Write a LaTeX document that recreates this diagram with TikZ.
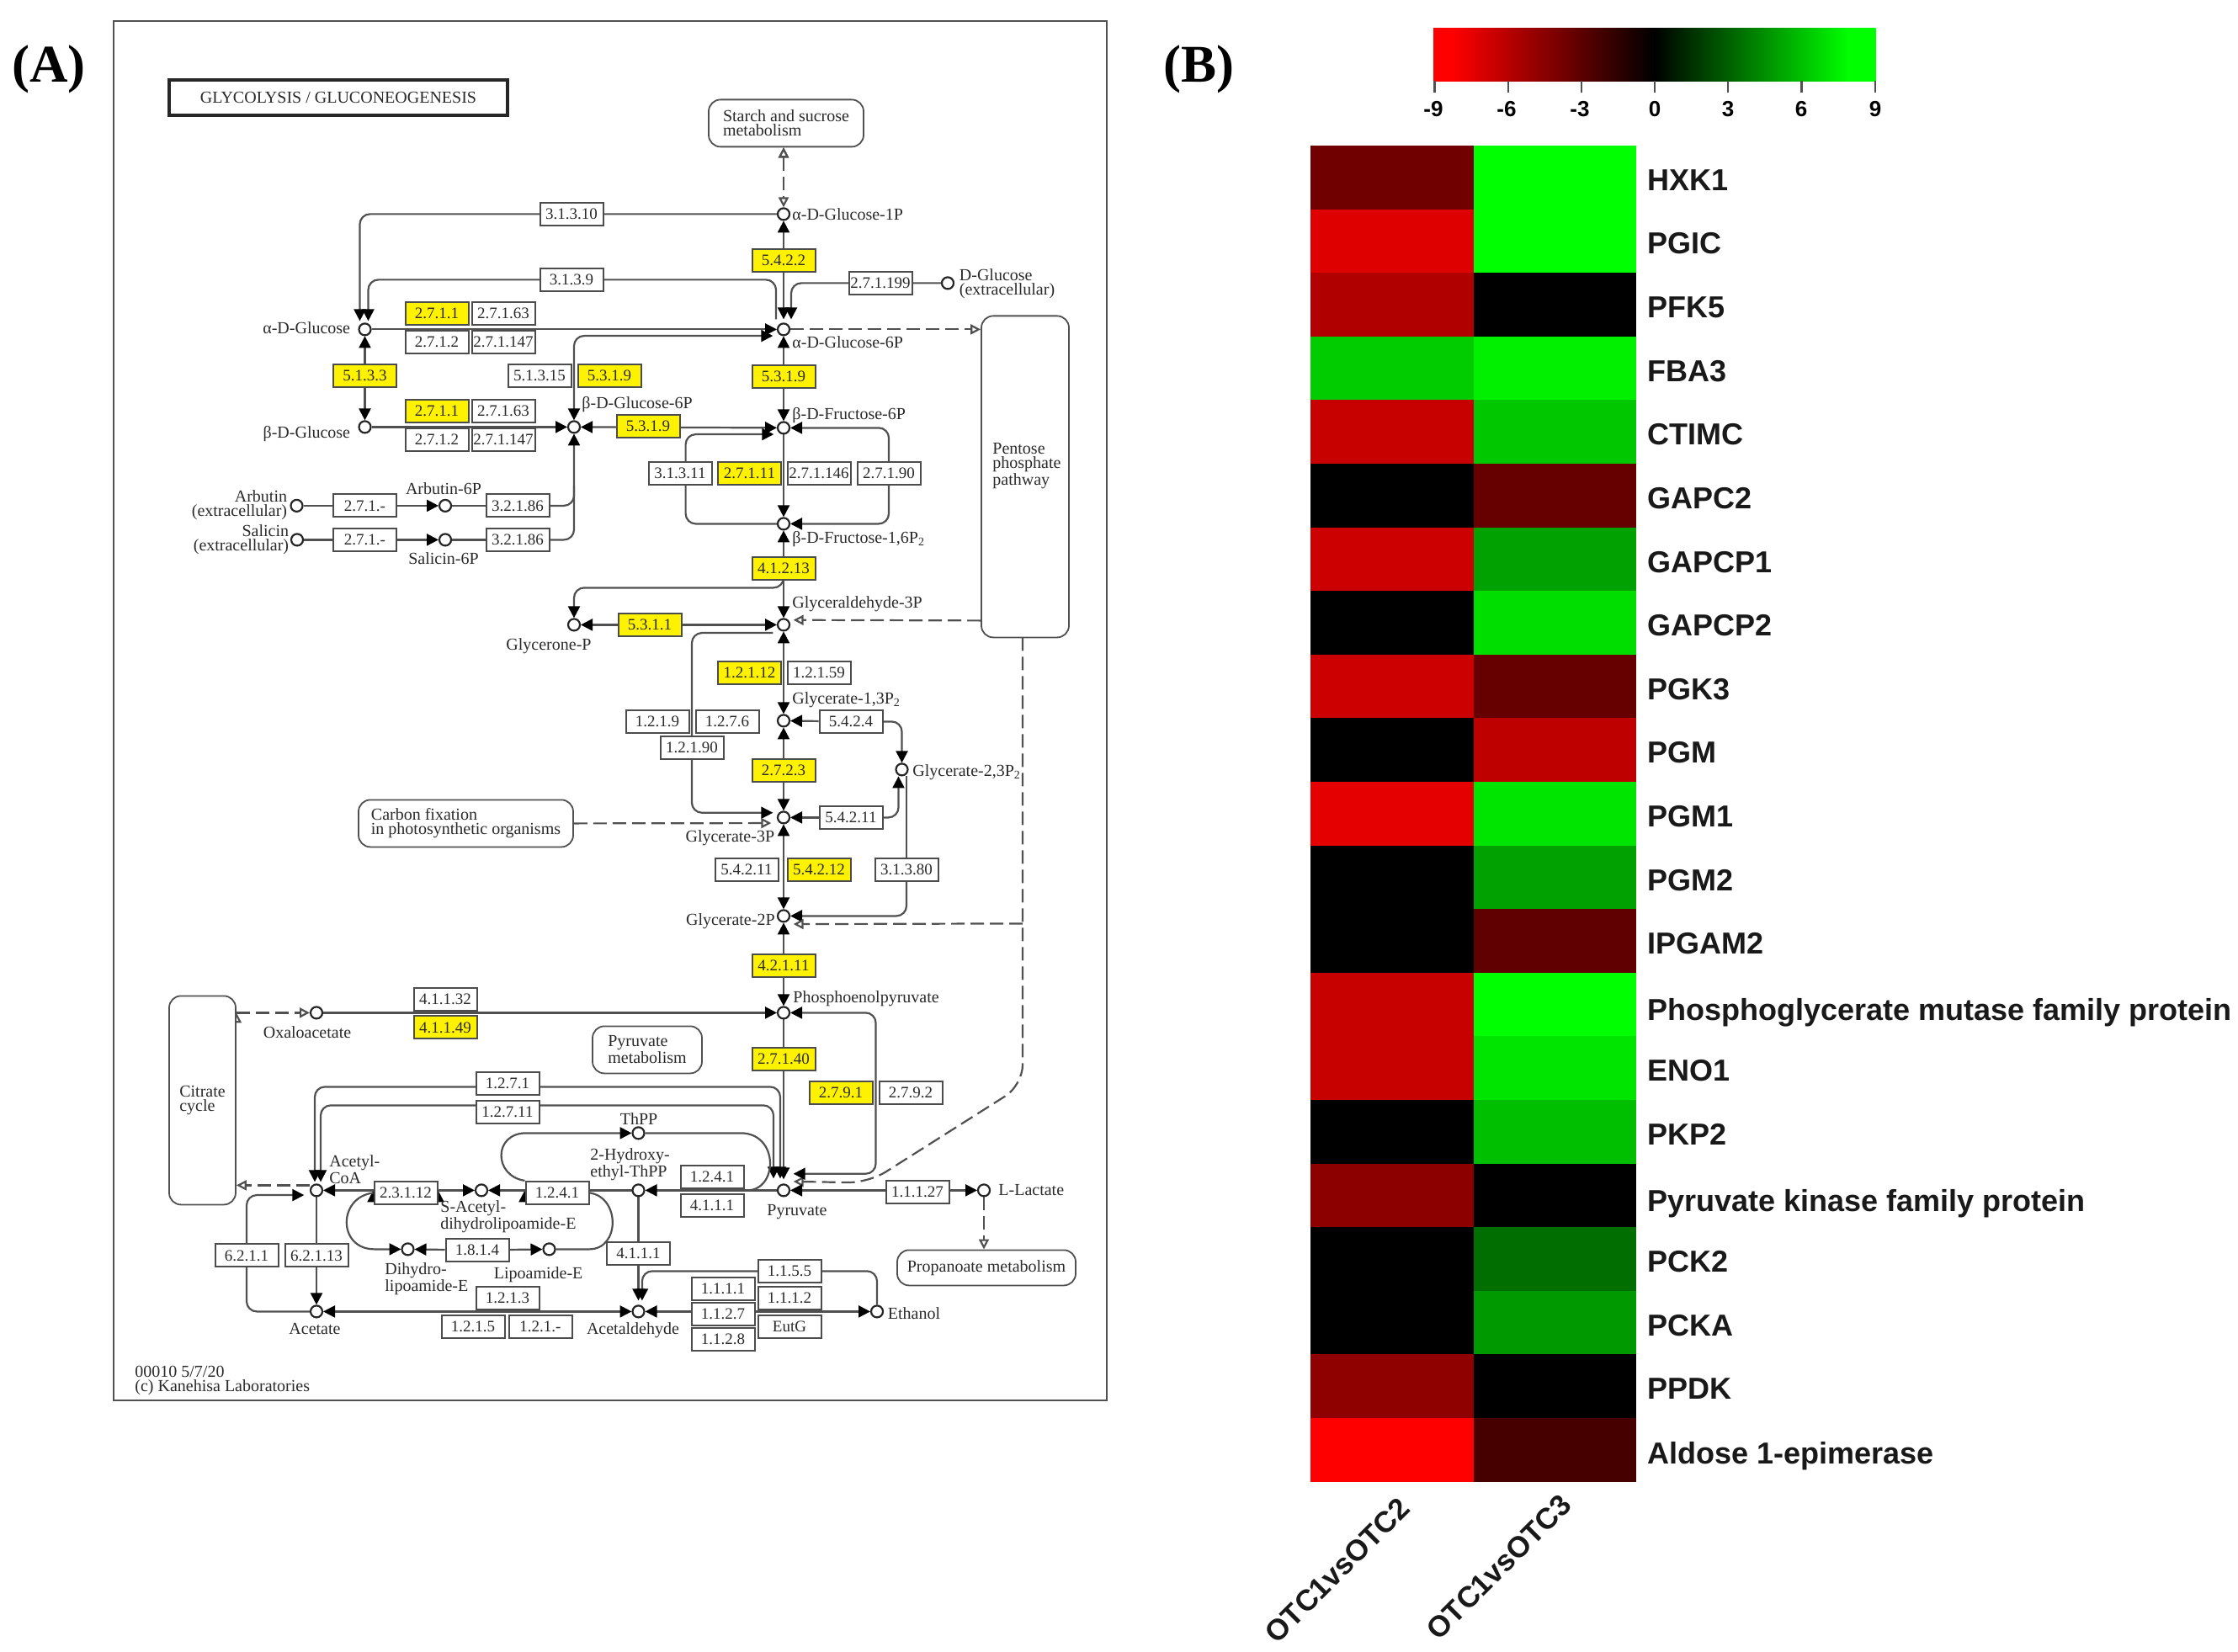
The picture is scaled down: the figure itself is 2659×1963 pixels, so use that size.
\documentclass[tikz,border=0pt]{standalone}
\usepackage{fontspec}
\setmainfont{Liberation Serif}
\setsansfont{Liberation Sans}
\usetikzlibrary{positioning}
\usetikzlibrary{arrows.meta}
\definecolor{wirec}{HTML}{505050}
\definecolor{inkc}{HTML}{2A2A2A}
\pgfdeclarelayer{wires}
\pgfsetlayers{wires,main}
\pgfdeclarehorizontalshading{redgreen}{100bp}{color(0bp)=(red); color(27bp)=(red); color(50bp)=(black); color(72bp)=(green); color(100bp)=(green)}
\tikzset{
	>={Triangle[length=7pt,width=7pt,black]},
	wire/.style={draw=wirec,line width=1.1pt},
	link/.style={wire},
	arr/.style={wire,->},
	biarr/.style={wire,<->},
	rnd/.style={rounded corners=6pt},
	latent/.style={wire,dash pattern=on 8pt off 3.5pt,-{Triangle[open,length=6pt,width=6pt,fill=white]}},
	latentbi/.style={latent,{Triangle[open,length=6pt,width=6pt,fill=white]}-{Triangle[open,length=6pt,width=6pt,fill=white]}},
	met/.style={circle,draw=black!85,fill=white,line width=1.1pt,minimum size=7pt,inner sep=0pt,outer sep=.5pt},
	ec/.style={rectangle,draw=black!70,fill=white,line width=1pt,minimum width=37.5pt,minimum height=13.5pt,inner sep=0pt,text=inkc,font=\fontsize{9.5}{10}\selectfont},
	hit/.style={ec,fill=yellow},
	pathway/.style={rectangle,rounded corners=7pt,draw=wirec,fill=white,line width=.9pt,inner sep=0pt,align=left,text=inkc,font=\fontsize{10}{8.5}\selectfont},
	lab/.style={inner sep=0pt,align=left,text=inkc,font=\fontsize{10}{8.5}\selectfont},
	labr/.style={lab,align=right},
	labc/.style={lab,align=center},
	cell/.style={rectangle,minimum width=96.75pt,minimum height=37.8pt,inner sep=0pt,outer sep=0pt},
	hr/.style={cell,fill=red!#1!black},
	hg/.style={cell,fill=green!#1!black},
	gene/.style={anchor=base west,inner sep=0pt,text=black!90,font=\sffamily\bfseries\fontsize{18}{20}\selectfont},
	sample/.style={rotate=45,anchor=east,inner sep=0pt,text=black!90,font=\sffamily\bfseries\fontsize{17.5}{20}\selectfont},
	ticklab/.style={inner sep=0pt,font=\sffamily\bfseries\fontsize{13}{15}\selectfont},
	panel/.style={inner sep=0pt,font=\bfseries\fontsize{31.5}{36}\selectfont}
}

\begin{document}
\begin{tikzpicture}[x=.5pt,y=-.5pt]
	\useasboundingbox (0,0) rectangle (2659,1963);
	% Panels
	\node[panel] (pa) at (58,82) {(A)};
	\node[panel] (pb) at (1424,82) {(B)};
	\node[rectangle,draw=wirec,line width=1.1pt,minimum width=590pt,minimum height=819.5pt,inner sep=0pt] (frame) at (725,844.5) {};
	\node[rectangle,draw=black!85,line width=1.6pt,minimum width=201pt,minimum height=21pt,inner sep=0pt,text=inkc,font=\fontsize{10}{12}\selectfont] (title) at (402,116) {GLYCOLYSIS / GLUCONEOGENESIS};

	\begin{scope}[yshift=-1.2pt]
	\node[lab] (stamp) at (160,1638) [anchor=west] {00010 5/7/20\\(c) Kanehisa Laboratories};

	% Metabolites
	\node[met] (glc1p) at (931,252) {};
	\node[met] (glc6p) at (931,389) {};
	\node[met] (f6p) at (931,506) {};
	\node[met] (fbp) at (931,620) {};
	\node[met] (gap3p) at (931,740) {};
	\node[met] (gly13p) at (931,854) {};
	\node[met] (gly3p) at (931,969) {};
	\node[met] (gly2p) at (931,1086) {};
	\node[met] (pep) at (931,1201) {};
	\node[met] (pyr) at (931,1412) {};
	\node[met] (glca) at (433.5,389) {};
	\node[met] (glcb) at (433.5,505) {};
	\node[met] (g6pb) at (682,505) {};
	\node[met] (glyp) at (682,740) {};
	\node[met] (arb) at (352.5,598.5) {};
	\node[met] (sal) at (353,639) {};
	\node[met] (arb6p) at (529,598.5) {};
	\node[met] (sal6p) at (529,639) {};
	\node[met] (gly23p) at (1071.5,912) {};
	\node[met] (glcd) at (1126,334) {};
	\node[met] (oxa) at (376,1201) {};
	\node[met] (acetyl) at (376,1412) {};
	\node[met] (acetate) at (376,1556) {};
	\node[met] (sacet) at (572,1412) {};
	\node[met] (dihydro) at (484.5,1482) {};
	\node[met] (lipo) at (652.5,1482) {};
	\node[met] (thpp) at (758.5,1344) {};
	\node[met] (hydroxy) at (758.5,1412) {};
	\node[met] (acald) at (758.5,1556) {};
	\node[met] (etoh) at (1042,1556) {};
	\node[met] (lac) at (1169,1412) {};

	% Metabolite names
	\node[lab,anchor=west] (tglc1p) at (941,252) {α-D-Glucose-1P};
	\node[lab,anchor=west] (tglc6p) at (941,404) {α-D-Glucose-6P};
	\node[lab,anchor=west] (tf6p) at (941,491) {β-D-Fructose-6P};
	\node[lab,anchor=west] (tfbp) at (941,638) {β-D-Fructose-1,6P\textsubscript{2}};
	\node[lab,anchor=west] (tgap3p) at (941,715) {Glyceraldehyde-3P};
	\node[lab,anchor=west] (tgly13p) at (941,829) {Glycerate-1,3P\textsubscript{2}};
	\node[lab,anchor=west] (tgly23p) at (1084,915) {Glycerate-2,3P\textsubscript{2}};
	\node[lab,anchor=east] (tgly3p) at (920.5,993) {Glycerate-3P};
	\node[lab,anchor=east] (tgly2p) at (921,1092) {Glycerate-2P};
	\node[lab,anchor=west] (tpep) at (942,1184) {Phosphoenolpyruvate};
	\node[labc] (tpyr) at (947,1438) {Pyruvate};
	\node[lab,anchor=west] (tlac) at (1186,1412) {L-Lactate};
	\node[lab,anchor=west] (tetoh) at (1054.5,1558) {Ethanol};
	\node[labc] (tacald) at (752,1578) {Acetaldehyde};
	\node[labc] (tthpp) at (759,1327) {ThPP};
	\node[lab,anchor=west] (thydroxy) at (701,1381) {2-Hydroxy-\\ethyl-ThPP};
	\node[lab,anchor=west] (tsacet) at (523,1443) {S-Acetyl-\\dihydrolipoamide-E};
	\node[lab,anchor=west] (tdihydro) at (457,1517) {Dihydro-\\lipoamide-E};
	\node[lab,anchor=west] (tlipo) at (586.5,1512) {Lipoamide-E};
	\node[lab,anchor=west] (tacetyl) at (391,1387) {Acetyl-\\CoA};
	\node[labc] (tacetate) at (374,1577) {Acetate};
	\node[labc] (toxa) at (365,1224) {Oxaloacetate};
	\node[lab,anchor=east] (tglca) at (416.5,387) {α-D-Glucose};
	\node[lab,anchor=east] (tglcb) at (416.5,513) {β-D-Glucose};
	\node[lab,anchor=west] (tg6pb) at (691,478) {β-D-Glucose-6P};
	\node[lab,anchor=west] (tglcd) at (1139.5,335) {D-Glucose\\(extracellular)};
	\node[labr,anchor=east] (tarb) at (341.5,598) {Arbutin\\(extracellular)};
	\node[labr,anchor=east] (tsal) at (343.5,639) {Salicin\\(extracellular)};
	\node[labc] (tarb6p) at (527,578) {Arbutin-6P};
	\node[labc] (tsal6p) at (527,661) {Salicin-6P};
	\node[labc] (tglyp) at (652,765) {Glycerone-P};

	% Other maps
	\node[pathway,minimum width=92pt,minimum height=28pt] (starch) at (934,144) {Starch and sucrose\\metabolism};
	\node[pathway,minimum width=52pt,minimum height=191pt] (pentose) at (1218,564) {};
	\node[lab,anchor=west] (tpentose) at (1179,551) {Pentose\\phosphate\\pathway};
	\node[pathway,minimum width=127.5pt,minimum height=28pt] (carbon) at (553.5,976) {Carbon fixation\\in photosynthetic organisms};
	\node[pathway,minimum width=39.5pt,minimum height=124pt] (citrate) at (240.5,1305) {Citrate\\cycle};
	\node[pathway,minimum width=65pt,minimum height=28pt] (pyrmet) at (769,1245) {Pyruvate\\metabolism};
	\node[pathway,minimum width=106pt,minimum height=21pt] (propan) at (1172,1504) {Propanoate metabolism};

	% Enzymes
	\node[ec] (ec31310) at (679,252) {3.1.3.10};
	\node[ec] (ec3139) at (679,330) {3.1.3.9};
	\node[hit] (ec2711a) at (519,370) {2.7.1.1};
	\node[ec] (ec27163a) at (598,370) {2.7.1.63};
	\node[ec] (ec2712a) at (519,404) {2.7.1.2};
	\node[ec] (ec271147a) at (598,404) {2.7.1.147};
	\node[hit] (ec5133) at (433.5,444) {5.1.3.3};
	\node[ec] (ec51315) at (641,444) {5.1.3.15};
	\node[hit] (ec5319a) at (724,444) {5.3.1.9};
	\node[hit] (ec2711b) at (519,486) {2.7.1.1};
	\node[ec] (ec27163b) at (598,486) {2.7.1.63};
	\node[ec] (ec2712b) at (519,520) {2.7.1.2};
	\node[ec] (ec271147b) at (598,520) {2.7.1.147};
	\node[hit] (ec5422) at (931,307) {5.4.2.2};
	\node[ec] (ec271199) at (1046,334) {2.7.1.199};
	\node[hit] (ec5319b) at (931,445) {5.3.1.9};
	\node[hit] (ec5319c) at (770,504) {5.3.1.9};
	\node[ec] (ec31311) at (808,560) {3.1.3.11};
	\node[hit] (ec27111) at (890.5,560) {2.7.1.11};
	\node[ec] (ec271146) at (973,560) {2.7.1.146};
	\node[ec] (ec27190) at (1056,560) {2.7.1.90};
	\node[ec] (ec271a) at (433.5,598.5) {2.7.1.-};
	\node[ec] (ec32186a) at (615,598.5) {3.2.1.86};
	\node[ec] (ec271b) at (433.5,639) {2.7.1.-};
	\node[ec] (ec32186b) at (615,639) {3.2.1.86};
	\node[hit] (ec41213) at (931,673) {4.1.2.13};
	\node[hit] (ec5311) at (772,740) {5.3.1.1};
	\node[hit] (ec12112) at (890.5,797) {1.2.1.12};
	\node[ec] (ec12159) at (973,797) {1.2.1.59};
	\node[ec] (ec1219) at (781,855) {1.2.1.9};
	\node[ec] (ec1276) at (864,855) {1.2.7.6};
	\node[ec] (ec12190) at (822,886) {1.2.1.90};
	\node[ec] (ec5424) at (1011,855) {5.4.2.4};
	\node[hit] (ec2723) at (931,913) {2.7.2.3};
	\node[ec] (ec54211a) at (1011,969) {5.4.2.11};
	\node[ec] (ec54211b) at (887,1031) {5.4.2.11};
	\node[hit] (ec54212) at (973,1031) {5.4.2.12};
	\node[ec] (ec31380) at (1077,1031) {3.1.3.80};
	\node[hit] (ec42111) at (931,1145) {4.2.1.11};
	\node[ec] (ec41132) at (529,1185) {4.1.1.32};
	\node[hit] (ec41149) at (529,1218.5) {4.1.1.49};
	\node[hit] (ec27140) at (931,1256) {2.7.1.40};
	\node[hit] (ec2791) at (999,1296) {2.7.9.1};
	\node[ec] (ec2792) at (1082,1296) {2.7.9.2};
	\node[ec] (ec1271) at (603,1285) {1.2.7.1};
	\node[ec] (ec12711) at (603,1319) {1.2.7.11};
	\node[ec] (ec23112) at (482,1415) {2.3.1.12};
	\node[ec] (ec1241a) at (662,1415) {1.2.4.1};
	\node[ec] (ec1241b) at (846,1396) {1.2.4.1};
	\node[ec] (ec4111a) at (846,1430) {4.1.1.1};
	\node[ec] (ec11127) at (1090,1414) {1.1.1.27};
	\node[ec] (ec6211) at (293,1489.5) {6.2.1.1};
	\node[ec] (ec62113) at (376,1489.5) {6.2.1.13};
	\node[ec] (ec1814) at (567,1483) {1.8.1.4};
	\node[ec] (ec4111b) at (758.5,1487) {4.1.1.1};
	\node[ec] (ec1213) at (603,1540) {1.2.1.3};
	\node[ec] (ec1215) at (562,1574) {1.2.1.5};
	\node[ec] (ec121x) at (642,1574) {1.2.1.-};
	\node[ec] (ec1155) at (938,1508) {1.1.5.5};
	\node[ec] (ec1112) at (938,1540) {1.1.1.2};
	\node[ec] (eceutg) at (938,1574) {EutG};
	\node[ec] (ec1111) at (859,1529) {1.1.1.1};
	\node[ec] (ec1127) at (859,1559) {1.1.2.7};
	\node[ec] (ec1128) at (859,1589) {1.1.2.8};

	% Free points on the long lines
	\coordinate (joinarb) at (682,575);
	\coordinate (loop2791) at (1040.5,1296);
	\coordinate (pentb) at (1215,755);
	\coordinate (jointhpp) at (889,1412);

	\begin{pgfonlayer}{wires}
		% Top part
		\path[latentbi] (starch.south -| glc1p) edge (glc1p);
		\path[biarr] (glc1p) edge ([yshift=2pt]glc6p.north);
		\path[arr] (glca) edge (glc6p);
		\draw[arr,rnd] (glc1p) -| ([xshift=-3pt,yshift=1pt]glca.north);
		\draw[arr,rnd] ([xshift=-4.5pt,yshift=2pt]glc6p.north) |- (ec3139.center) -| ([xshift=2pt,yshift=1pt]glca.north);
		\draw[arr,rnd] (glcd) -| ([xshift=4.5pt,yshift=2pt]glc6p.north);
		\path[biarr] (glca) edge (glcb);
		\path[arr] (glcb) edge (g6pb);
		\path[biarr] (g6pb) edge (f6p);
		\draw[biarr,rnd] (g6pb) |- ([xshift=-3.5pt,yshift=-1pt]glc6p.south west);
		\path[link] (arb) edge (ec271a);
		\path[arr] (ec271a) edge (arb6p);
		\path[link] (arb6p) edge (ec32186a);
		\path[link] (sal) edge (ec271b);
		\path[arr] (ec271b) edge (sal6p);
		\path[link] (sal6p) edge (ec32186b);
		\draw[link,rnd] (ec32186a) -| (joinarb);
		\draw[arr,rnd] (ec32186b) -| (g6pb);
		\path[biarr] (glc6p) edge (f6p);
		\path[latent] (glc6p) edge (pentose.west |- glc6p);
		\path[arr] (f6p) edge (fbp);
		\draw[biarr,rnd] (f6p) -| (ec27190.center) |- (fbp);
		\draw[arr,rnd] (fbp) -| ([xshift=3.3pt]ec31311.center) |- ([xshift=-3pt,yshift=-1pt]f6p.south west);
		\path[biarr] (fbp) edge (gap3p);
		\draw[arr,rnd] (ec41213.south) -- (ec41213.south |- 0,696) -| (glyp);
		\path[biarr] (glyp) edge (gap3p);
		\draw[latent] (pentose.west |- 0,735) -- ([xshift=3pt]gap3p.north east);

		% Middle part
		\path[biarr] (gap3p) edge (gly13p);
		\draw[arr,rnd] ([xshift=-3.5pt,yshift=-2pt]gap3p.south west) -| (ec12190.center) |- ([xshift=-3.5pt]gly3p.north west);
		\path[arr] (ec5424) edge (gly13p);
		\draw[arr,rnd] (ec5424) -| (gly23p);
		\path[biarr] (gly13p) edge (gly3p);
		\path[arr] (ec54211a) edge (gly3p);
		\draw[arr,rnd] (ec54211a) -| ([xshift=-2pt]gly23p.south);
		\path[link] (ec31380) edge ([xshift=2.75pt]gly23p.south);
		\draw[arr,rnd] (ec31380) |- (gly2p);
		\draw[latent] (carbon.east) -- ([xshift=-4.5pt,yshift=-.5pt]gly3p.south west);
		\path[biarr] (gly3p) edge (gly2p);
		\path[biarr] (gly2p) edge (pep);
		\draw[latent,rounded corners=12pt] (pentb) -- (1215,1287) -- (1032,1403) -- ([xshift=3pt,yshift=2.4pt]pyr.north east);
		\draw[latent] (pentb |- 0,1095) -- ([xshift=3pt,yshift=-2pt]gly2p.south east);

		% Lower part
		\path[latent] (citrate.east |- oxa) edge (oxa);
		\path[arr] (oxa) edge (pep);
		\path[arr] (pep) edge ([yshift=2.5pt]pyr.north);
		\draw[biarr,rnd] (pep) -| (loop2791) |- ([xshift=3pt,yshift=7pt]pyr.north east);
		\draw[biarr,rnd] ([xshift=-1pt,yshift=1pt]acetyl.north) |- ([yshift=-2pt]ec1271.center) -| ([xshift=-2pt,yshift=3pt]pyr.north);
		\draw[biarr,rnd] ([xshift=2.5pt,yshift=1pt]acetyl.north) |- ([yshift=4pt]ec12711.center) -| ([xshift=-6pt,yshift=3pt]pyr.north);
		\path[arr] (pyr) edge (hydroxy);
		\path[biarr] (pyr) edge (lac);
		\path[latent] (lac) edge (lac |- propan.north);
		\path[link] (hydroxy) edge (ec1241a.east |- hydroxy);
		\path[arr] (hydroxy) edge ([yshift=2.5pt]acald.north);
		\draw[arr,rnd] (etoh) |- (ec1155.center) -| ([xshift=2.2pt,yshift=2.5pt]acald.north);
		\path[biarr] (acald) edge (etoh);
		\path[biarr] (acetate) edge (acald);
		\path[arr] (acetyl) edge (acetate);
		\draw[arr,rnd] (acetate) -| (ec6211.center) |- ([xshift=-4.5pt]acetyl.south west);
		\draw[latent] ([yshift=3pt]acetyl.west) -- (citrate.east |- 0,1406);
		\path[arr] (ec23112.west |- acetyl) edge (acetyl);
		\path[arr] (ec23112.east |- sacet) edge (sacet);
		\path[arr] (ec1241a.west |- sacet) edge (sacet);
		\path[arr] (ec1814) edge (dihydro);
		\path[arr] (ec1814) edge (lipo);
		\draw[arr] (ec23112.west) .. controls (401,1420) and (401,1482) .. (445,1482) -- (dihydro);
		\draw[link] (lipo) -- (700,1482) .. controls (737,1482) and (737,1420) .. (ec1241a.east);
		\draw[arr] (ec1241a.north west) .. controls (586,1395) and (586,1344) .. (625,1344) -- (thpp);
		\draw[link] (thpp) -- (880,1344) .. controls (925,1344) and (925,1410) .. (jointhpp);
	\end{pgfonlayer}
	\end{scope}

	% Colour key
	\node[rectangle,shade,shading=redgreen,minimum width=262.75pt,minimum height=31.6pt,inner sep=0pt,outer sep=0pt] (key) at (1965.9,65.1) {};
	\draw[link] (1704.4,96) -- (1704.4,110) (1791.6,96) -- (1791.6,110) (1878.8,96) -- (1878.8,110) (1966,96) -- (1966,110) (2053.2,96) -- (2053.2,110) (2140.4,96) -- (2140.4,110) (2227.6,96) -- (2227.6,110);
	\node[ticklab] (km9) at (1703,130) {-9};
	\node[ticklab] (km6) at (1790,130) {-6};
	\node[ticklab] (km3) at (1877,130) {-3};
	\node[ticklab] (k0) at (1966,130) {0};
	\node[ticklab] (k3) at (2053,130) {3};
	\node[ticklab] (k6) at (2140,130) {6};
	\node[ticklab] (k9) at (2228,130) {9};

	% Heat map
	\node[hr=44] (hxkA) at (1653.75,210.8) {}; \node[hg=100, right = 0pt of hxkA] (hxkB) {}; \node[gene] (thxk) at ([xshift=6.5pt,yshift=-7.8pt]hxkB.east) {HXK1};
	\node[hr=87, below = 0pt of hxkA] (pgicA) {}; \node[hg=100, right = 0pt of pgicA] (pgicB) {}; \node[gene] (tpgic) at ([xshift=6.5pt,yshift=-7.8pt]pgicB.east) {PGIC};
	\node[hr=69, below = 0pt of pgicA] (pfkA) {}; \node[hg=0, right = 0pt of pfkA] (pfkB) {}; \node[gene] (tpfk) at ([xshift=6.5pt,yshift=-7.8pt]pfkB.east) {PFK5};
	\node[hg=80, below = 0pt of pfkA] (fbaA) {}; \node[hg=94, right = 0pt of fbaA] (fbaB) {}; \node[gene] (tfba) at ([xshift=6.5pt,yshift=-7.8pt]fbaB.east) {FBA3};
	\node[hr=78, below = 0pt of fbaA] (ctimA) {}; \node[hg=78, right = 0pt of ctimA] (ctimB) {}; \node[gene] (tctim) at ([xshift=6.5pt,yshift=-7.8pt]ctimB.east) {CTIMC};
	\node[hr=0, below = 0pt of ctimA] (gapcA) {}; \node[hr=40, right = 0pt of gapcA] (gapcB) {}; \node[gene] (tgapc) at ([xshift=6.5pt,yshift=-7.8pt]gapcB.east) {GAPC2};
	\node[hr=80, below = 0pt of gapcA] (gapoA) {}; \node[hg=63, right = 0pt of gapoA] (gapoB) {}; \node[gene] (tgapo) at ([xshift=6.5pt,yshift=-7.8pt]gapoB.east) {GAPCP1};
	\node[hr=0, below = 0pt of gapoA] (gaptA) {}; \node[hg=87, right = 0pt of gaptA] (gaptB) {}; \node[gene] (tgapt) at ([xshift=6.5pt,yshift=-7.8pt]gaptB.east) {GAPCP2};
	\node[hr=80, below = 0pt of gaptA] (pgkA) {}; \node[hr=40, right = 0pt of pgkA] (pgkB) {}; \node[gene] (tpgk) at ([xshift=6.5pt,yshift=-7.8pt]pgkB.east) {PGK3};
	\node[hr=0, below = 0pt of pgkA] (pgmA) {}; \node[hr=75, right = 0pt of pgmA] (pgmB) {}; \node[gene] (tpgm) at ([xshift=6.5pt,yshift=-7.8pt]pgmB.east) {PGM};
	\node[hr=90, below = 0pt of pgmA] (pgmoA) {}; \node[hg=90, right = 0pt of pgmoA] (pgmoB) {}; \node[gene] (tpgmo) at ([xshift=6.5pt,yshift=-7.8pt]pgmoB.east) {PGM1};
	\node[hr=0, below = 0pt of pgmoA] (pgmtA) {}; \node[hg=63, right = 0pt of pgmtA] (pgmtB) {}; \node[gene] (tpgmt) at ([xshift=6.5pt,yshift=-7.8pt]pgmtB.east) {PGM2};
	\node[hr=0, below = 0pt of pgmtA] (ipgA) {}; \node[hr=38, right = 0pt of ipgA] (ipgB) {}; \node[gene] (tipg) at ([xshift=6.5pt,yshift=-7.8pt]ipgB.east) {IPGAM2};
	\node[hr=78, below = 0pt of ipgA] (pgfA) {}; \node[hg=100, right = 0pt of pgfA] (pgfB) {}; \node[gene] (tpgf) at ([xshift=6.5pt,yshift=-9.5pt]pgfB.east) {Phosphoglycerate mutase family protein};
	\node[hr=78, below = 0pt of pgfA] (enoA) {}; \node[hg=90, right = 0pt of enoA] (enoB) {}; \node[gene] (teno) at ([xshift=6.5pt,yshift=-7.8pt]enoB.east) {ENO1};
	\node[hr=0, below = 0pt of enoA] (pkpA) {}; \node[hg=75, right = 0pt of pkpA] (pkpB) {}; \node[gene] (tpkp) at ([xshift=6.5pt,yshift=-7.8pt]pkpB.east) {PKP2};
	\node[hr=55, below = 0pt of pkpA] (pkfA) {}; \node[hg=0, right = 0pt of pkfA] (pkfB) {}; \node[gene] (tpkf) at ([xshift=6.5pt,yshift=-9.5pt]pkfB.east) {Pyruvate kinase family protein};
	\node[hr=0, below = 0pt of pkfA] (pckA) {}; \node[hg=43, right = 0pt of pckA] (pckB) {}; \node[gene] (tpck) at ([xshift=6.5pt,yshift=-7.8pt]pckB.east) {PCK2};
	\node[hr=0, below = 0pt of pckA] (pcaA) {}; \node[hg=60, right = 0pt of pcaA] (pcaB) {}; \node[gene] (tpca) at ([xshift=6.5pt,yshift=-7.8pt]pcaB.east) {PCKA};
	\node[hr=56, below = 0pt of pcaA] (ppdA) {}; \node[hg=0, right = 0pt of ppdA] (ppdB) {}; \node[gene] (tppd) at ([xshift=6.5pt,yshift=-7.8pt]ppdB.east) {PPDK};
	\node[hr=100, below = 0pt of ppdA] (aldA) {}; \node[hr=28, right = 0pt of aldA] (aldB) {}; \node[gene] (tald) at ([xshift=6.5pt,yshift=-8.5pt]aldB.east) {Aldose 1-epimerase};

	\node[sample] (totc2) at (1669,1786) {OTC1vsOTC2};
	\node[sample] (totc3) at (1861,1782) {OTC1vsOTC3};
\end{tikzpicture}
\end{document}
